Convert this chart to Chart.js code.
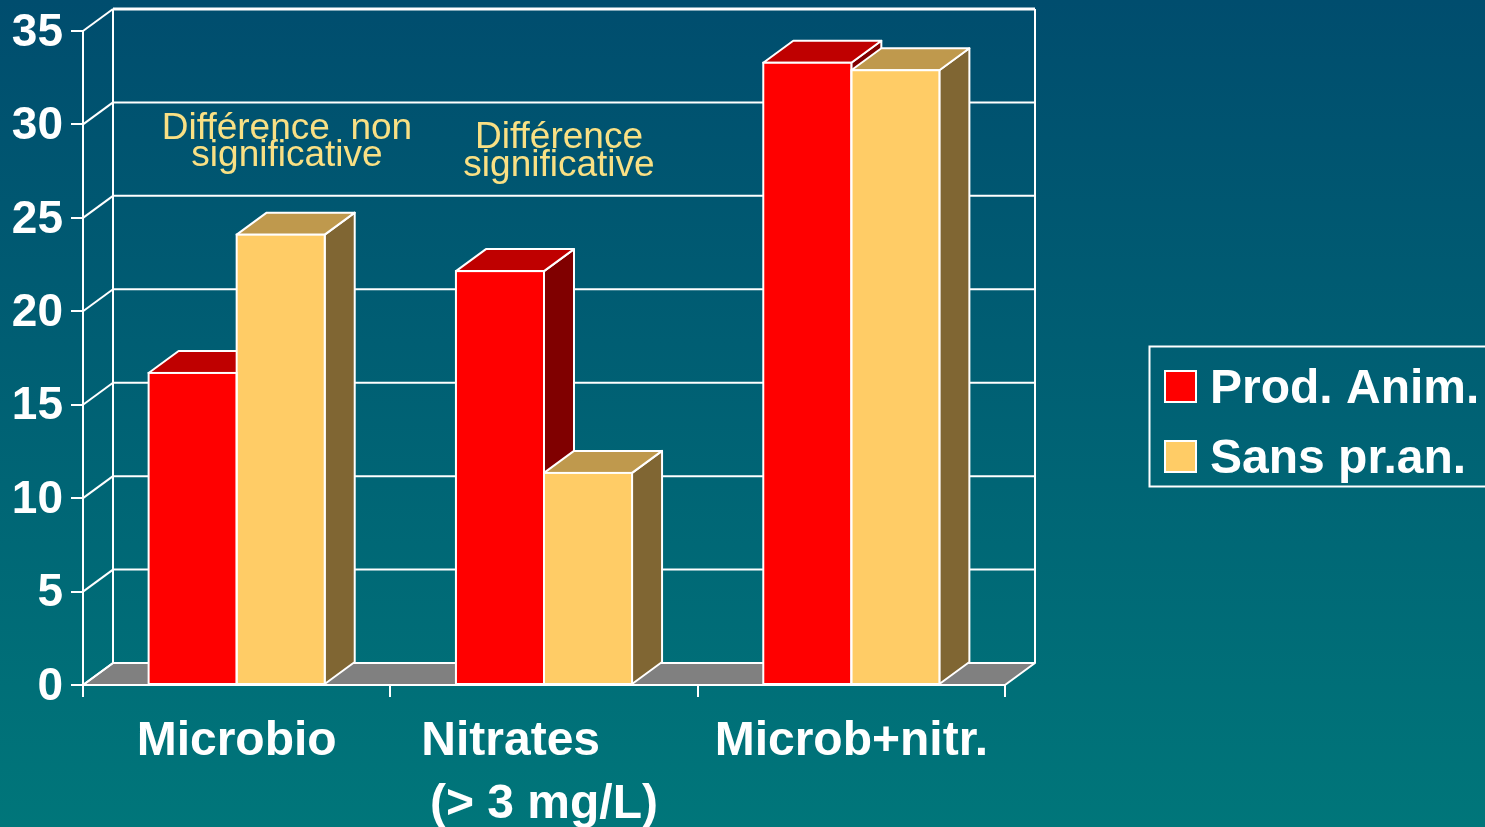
<!DOCTYPE html>
<html>
<head>
<meta charset="utf-8">
<title>Prod. Anim. / Sans pr.an.</title>
<script src="https://cdn.jsdelivr.net/npm/chart.js@4"></script>
<style>
    html, body { margin: 0; padding: 0; width: 1485px; height: 827px; overflow: hidden; }
    body { background: linear-gradient(180deg, #004d6e 0%, #00767a 100%); }
    canvas { display: block; }
</style>
</head>
<body>
<canvas id="barChart" width="1485" height="827"></canvas>
<script>
// Nitrates est décalé vers la gauche par les espaces, comme dans l'original
const categories = ['Microbio', ['Nitrates     ', '(> 3 mg/L)'], 'Microb+nitr.'];
const seriesNames = ['Prod. Anim.', 'Sans pr.an.'];
const prodAnim = [16.7, 22.15, 33.3];
const sansProdAnim = [24.1, 11.35, 32.9];

const frontColors = ['#ff0000', '#ffcc66'];
const topColors = ['#bf0000', '#bf994d'];
const sideColors = ['#800000', '#806633'];

const DEPTH_X = 30;
const DEPTH_Y = 22;
const FONT = '"Liberation Sans", Arial, sans-serif';

function poly(ctx, pts, fill) {
    ctx.beginPath();
    pts.forEach((p, i) => i ? ctx.lineTo(p[0], p[1]) : ctx.moveTo(p[0], p[1]));
    ctx.closePath();
    if (fill) {
        ctx.fillStyle = fill;
        ctx.fill();
    }
    ctx.stroke();
}

function line(ctx, x1, y1, x2, y2) {
    ctx.beginPath();
    ctx.moveTo(x1, y1);
    ctx.lineTo(x2, y2);
    ctx.stroke();
}

// Murs, sol et faces arrière, dessinés avant les barres
const wallsPlugin = {
    id: 'walls',
    beforeDatasetsDraw(chart) {
        const ctx = chart.ctx;
        const { left, right, top, bottom } = chart.chartArea;
        const yScale = chart.scales.y;
        ctx.save();
        ctx.strokeStyle = '#ffffff';
        ctx.lineWidth = 2;
        ctx.lineJoin = 'round';

        poly(ctx, [[left, bottom], [left + DEPTH_X, bottom - DEPTH_Y], [right + DEPTH_X, bottom - DEPTH_Y], [right, bottom]], '#808080');

        yScale.ticks.forEach(t => {
            const y = yScale.getPixelForValue(t.value);
            ctx.lineWidth = t.value === 35 ? 3 : 2;
            line(ctx, left + DEPTH_X, y - DEPTH_Y, right + DEPTH_X, y - DEPTH_Y);
            ctx.lineWidth = 2;
            line(ctx, left, y, left + DEPTH_X, y - DEPTH_Y);
        });
        line(ctx, left + DEPTH_X, top - DEPTH_Y, left + DEPTH_X, bottom - DEPTH_Y);
        line(ctx, right + DEPTH_X, top - DEPTH_Y, right + DEPTH_X, bottom - DEPTH_Y);

        // dessus et côté de chaque barre
        categories.forEach((c, j) => {
            chart.data.datasets.forEach((ds, i) => {
                const bar = chart.getDatasetMeta(i).data[j];
                const x0 = bar.x - bar.width / 2;
                const x1 = bar.x + bar.width / 2;
                poly(ctx, [[x1, bar.y], [x1 + DEPTH_X, bar.y - DEPTH_Y], [x1 + DEPTH_X, bar.base - DEPTH_Y], [x1, bar.base]], sideColors[i]);
                poly(ctx, [[x0, bar.y], [x0 + DEPTH_X, bar.y - DEPTH_Y], [x1 + DEPTH_X, bar.y - DEPTH_Y], [x1, bar.y]], topColors[i]);
            });
        });
        ctx.restore();
    },
    // contour blanc centré sur le bord des faces
    afterDatasetsDraw(chart) {
        const ctx = chart.ctx;
        ctx.save();
        ctx.strokeStyle = '#ffffff';
        ctx.lineWidth = 2;
        chart.data.datasets.forEach((ds, i) => {
            chart.getDatasetMeta(i).data.forEach(bar => {
                ctx.strokeRect(bar.x - bar.width / 2, bar.y, bar.width, bar.base - bar.y);
            });
        });
        ctx.restore();
    }
};

// Annotations et légende encadrée
const overlayPlugin = {
    id: 'overlay',
    afterDraw(chart) {
        const ctx = chart.ctx;
        ctx.save();

        ctx.fillStyle = '#f9e084';
        ctx.font = '37px ' + FONT;
        ctx.textAlign = 'center';
        ctx.textBaseline = 'alphabetic';
        ctx.fillText('Différence  non', 287, 139);
        ctx.fillText('significative', 287, 166);
        ctx.fillText('Différence', 559, 148);
        ctx.fillText('significative', 559, 176);

        ctx.strokeStyle = '#ffffff';
        ctx.lineWidth = 2;
        ctx.strokeRect(1149.5, 346.5, 345, 140);

        ctx.textAlign = 'left';
        ctx.font = 'bold 48px ' + FONT;
        chart.data.datasets.forEach((ds, i) => {
            const boxY = 371 + i * 70;
            ctx.fillStyle = frontColors[i];
            ctx.fillRect(1165, boxY, 31, 31);
            ctx.strokeRect(1165, boxY, 31, 31);
            ctx.fillStyle = '#ffffff';
            ctx.fillText(ds.label, 1210, 403 + i * 70);
        });
        ctx.restore();
    }
};

new Chart(document.getElementById('barChart').getContext('2d'), {
    type: 'bar',
    data: {
        labels: categories,
        datasets: [
            { label: seriesNames[0], data: prodAnim, backgroundColor: frontColors[0] },
            { label: seriesNames[1], data: sansProdAnim, backgroundColor: frontColors[1] }
        ]
    },
    plugins: [wallsPlugin, overlayPlugin],
    options: {
        responsive: false,
        animation: false,
        categoryPercentage: 0.573,
        barPercentage: 1,
        borderWidth: 0,
        layout: { padding: { top: 31, right: 480, left: 0, bottom: 0 } },
        plugins: { legend: { display: false }, tooltip: { enabled: false } },
        scales: {
            x: {
                afterFit: scale => { scale.height = 142; },
                border: { color: '#ffffff', width: 2 },
                grid: { drawOnChartArea: false, color: '#ffffff', lineWidth: 2, tickLength: 12 },
                ticks: {
                    color: '#ffffff',
                    padding: 14,
                    autoSkip: false,
                    maxRotation: 0,
                    font: { family: FONT, size: 48, weight: 'bold', lineHeight: 1.3 }
                }
            },
            y: {
                min: 0,
                max: 35,
                afterFit: scale => {
                    scale.width = 83;
                    scale.paddingTop = 0;
                    scale.paddingBottom = 0;
                },
                border: { color: '#ffffff', width: 2 },
                grid: { drawOnChartArea: false, color: '#ffffff', lineWidth: 2, tickLength: 12 },
                ticks: {
                    stepSize: 5,
                    color: '#ffffff',
                    padding: 8,
                    labelOffset: 2,
                    font: { family: FONT, size: 46, weight: 'bold' }
                }
            }
        }
    }
});
</script>
</body>
</html>
